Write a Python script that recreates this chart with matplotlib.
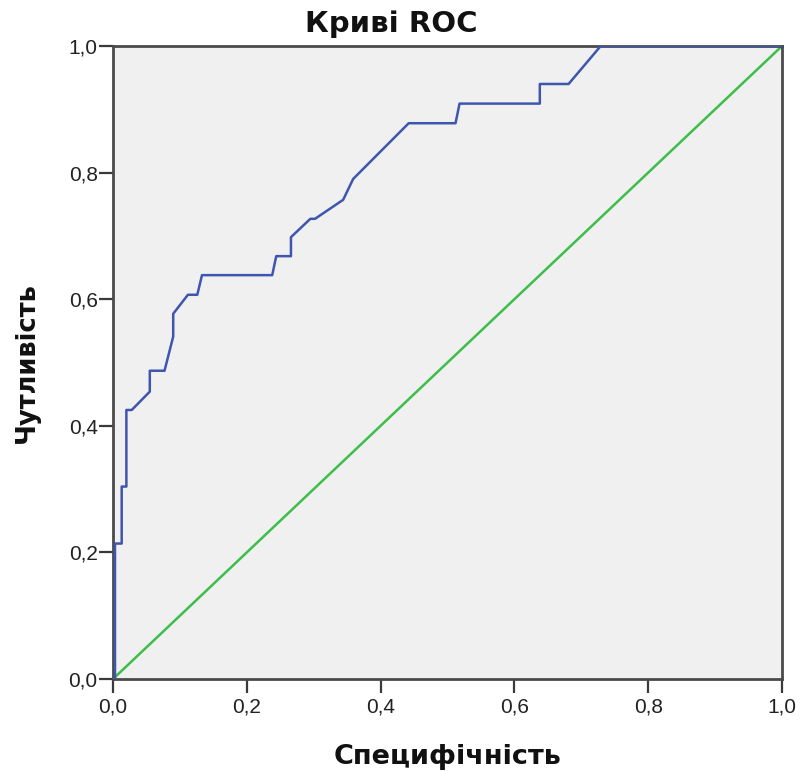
import matplotlib
matplotlib.use("Agg")
import matplotlib.pyplot as plt

# ROC curve points (1 - specificity, sensitivity)
fpr = [0.0, 0.003, 0.003, 0.013, 0.013, 0.020, 0.020, 0.028, 0.055, 0.055, 0.077,
       0.090, 0.090, 0.112, 0.126, 0.133, 0.238, 0.244, 0.266, 0.266, 0.295,
       0.302, 0.344, 0.359, 0.442, 0.512, 0.518, 0.638, 0.638, 0.681, 0.729, 1.0]
tpr = [0.0, 0.0, 0.214, 0.214, 0.304, 0.304, 0.425, 0.425, 0.454, 0.487, 0.487,
       0.541, 0.577, 0.607, 0.607, 0.638, 0.638, 0.668, 0.668, 0.698, 0.727,
       0.727, 0.757, 0.790, 0.878, 0.878, 0.909, 0.909, 0.940, 0.940, 1.0, 1.0]
ref_line = [0.0, 1.0]

ticks = [0.0, 0.2, 0.4, 0.6, 0.8, 1.0]
tick_labels = ["0,0", "0,2", "0,4", "0,6", "0,8", "1,0"]

title = "Криві ROC"
xlabel = "Специфічність"
ylabel = "Чутливість"

plt.rcParams['font.family'] = ['Liberation Sans', 'DejaVu Sans']

W, H = 803, 771
fig = plt.figure(figsize=(W/100, H/100), dpi=100)
ax = fig.add_axes([113/W, 1 - 679/H, (782-113)/W, (679-46)/H])
ax.set_facecolor('#F0F0F0')

ax.plot(ref_line, ref_line, color='#3DBE4A', lw=1.8, zorder=2)
ax.plot(fpr, tpr, color='#3F56AE', lw=1.8, zorder=3)

ax.set_xlim(0, 1)
ax.set_ylim(0, 1)
ax.set_xticks(ticks)
ax.set_xticklabels(tick_labels)
ax.set_yticks(ticks)
ax.set_yticklabels(tick_labels)
ax.tick_params(direction='out', length=10, width=1.6, color='#3a3a3a',
               labelsize=15, labelcolor='#222222')
ax.tick_params(axis='x', pad=3)
ax.tick_params(axis='y', pad=1)
for s in ax.spines.values():
    s.set_color('#4a4a4a')
    s.set_linewidth(2.0)

bold = dict(family=['DejaVu Sans'], fontweight='bold', color='#111111')
fig.text(391/W, 1 - 32/H, title, fontsize=21, ha='center', va='baseline', **bold)
fig.text(448/W, 1 - 764/H, xlabel, fontsize=19.5, ha='center', va='baseline', **bold)
fig.text(27/W, 1 - 363/H, ylabel, fontsize=18.5, ha='center', va='center',
         rotation=90, **bold)

fig.savefig('out.png', dpi=100)
